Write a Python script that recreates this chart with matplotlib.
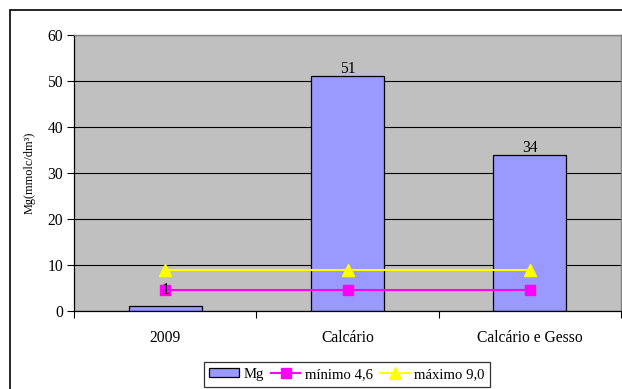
import matplotlib
matplotlib.use("Agg")
import matplotlib.pyplot as plt
from matplotlib.patches import Rectangle
import numpy as np

categories = ["2009", "Calcário", "Calcário e Gesso"]
mg = [1, 51, 34]
minimo = [4.6, 4.6, 4.6]
maximo = [9.0, 9.0, 9.0]
yticks = [0, 10, 20, 30, 40, 50, 60]

plt.rcParams["font.family"] = ["Liberation Serif", "DejaVu Serif"]
FS = 11.25

W, H = 622, 389
fig = plt.figure(figsize=(W / 100, H / 100), dpi=100)
# outer chart frame (clipped on right and bottom as in the reference)
fig.patches.append(Rectangle((10 / W, -0.1), 1.2, (H - 10) / H + 0.1,
                             transform=fig.transFigure, fill=False,
                             edgecolor="black", linewidth=1.2))

ax = fig.add_axes([74 / W, 1 - 311 / H, (621 - 74) / W, (311 - 35) / H])
ax.set_facecolor("#C0C0C0")

x = np.arange(len(categories))
h_bar = ax.bar(x, mg, width=0.4, color="#9999FF", edgecolor="black",
               linewidth=0.9, label="Mg", zorder=2)
h_min, = ax.plot(x, minimo, color="#FF00FF", marker="s", markersize=7,
                 linewidth=1.5, label="mínimo 4,6", zorder=3)
h_max, = ax.plot(x, maximo, color="#FFFF00", marker="^", markersize=8,
                 linewidth=1.5, label="máximo 9,0", zorder=3)

label_offsets = [12, 5, 5]
for xi, v, off in zip(x, mg, label_offsets):
    ax.annotate(str(v), (xi, v), xytext=(0, off), textcoords="offset points",
                ha="center", va="center", fontsize=FS, zorder=4)

ax.set_xlim(-0.5, len(categories) - 0.5)
ax.set_ylim(0, 60)
ax.set_yticks(yticks)
ax.yaxis.grid(True, color="black", linewidth=0.8)
ax.set_axisbelow(True)
ax.tick_params(axis="y", labelsize=FS, length=5, width=0.8, direction="out", pad=3)

ax.set_xticks(x)
ax.set_xticklabels(categories, fontsize=FS)
ax.set_xticks(np.arange(len(categories) + 1) - 0.5, minor=True)
ax.tick_params(axis="x", which="major", length=0, pad=14)
ax.tick_params(axis="x", which="minor", length=5, width=0.8, direction="out")

for side in ["top", "right"]:
    ax.spines[side].set_color("#808080")
    ax.spines[side].set_linewidth(1.0)
for side in ["left", "bottom"]:
    ax.spines[side].set_color("black")
    ax.spines[side].set_linewidth(0.9)

ax.set_ylabel("Mg(mmolc/dm³)", fontsize=8.8)
ax.yaxis.set_label_coords(-0.07, 0.5)

leg = fig.legend([h_bar, h_min, h_max], ["Mg", "mínimo 4,6", "máximo 9,0"],
                 loc="center", bbox_to_anchor=(347 / W, 1 - 374.5 / H), ncol=3,
                 fontsize=10.6, frameon=True, fancybox=False, edgecolor="black",
                 handlelength=2.0, handleheight=0.6, handletextpad=0.3,
                 columnspacing=0.5, borderpad=0.4, borderaxespad=0)
leg.get_frame().set_linewidth(0.9)

fig.savefig("out.png", dpi=100)
